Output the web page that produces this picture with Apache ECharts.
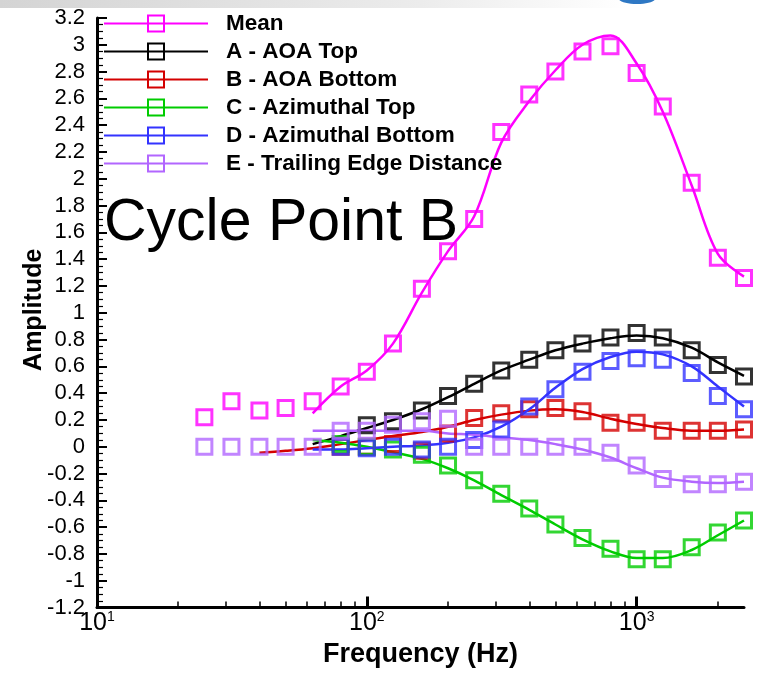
<!DOCTYPE html>
<html>
<head>
<meta charset="utf-8">
<script src="https://cdn.jsdelivr.net/npm/echarts@6/dist/echarts.min.js"></script>
<style>
  html, body { margin: 0; padding: 0; background: #fff; }
  #chart { width: 766px; height: 673px; }
</style>
</head>
<body>
<div id="chart"></div>
<script>
// One-third-octave band centre frequencies (Hz)
const freq = [25, 31.5, 40, 50, 63, 80, 100, 125, 160, 200, 250, 315, 400, 500, 630, 800, 1000, 1250, 1600, 2000, 2500];

// Measured amplitudes (square markers)
const meanPts = [0.22, 0.34, 0.27, 0.29, 0.34, 0.45, 0.56, 0.77, 1.18, 1.46, 1.70, 2.35, 2.63, 2.80, 2.95, 2.99, 2.79, 2.54, 1.97, 1.41, 1.26];
const aPts    = [null, null, null, null, null, null, 0.16, 0.19, 0.27, 0.38, 0.47, 0.57, 0.65, 0.72, 0.77, 0.815, 0.85, 0.815, 0.72, 0.61, 0.525];
const bPts    = [null, null, null, null, null, 0.0, 0.0, 0.02, -0.03, 0.10, 0.215, 0.25, 0.28, 0.29, 0.265, 0.18, 0.18, 0.12, 0.12, 0.12, 0.13];
const cPts    = [null, null, null, null, null, 0.02, 0.0, -0.02, -0.06, -0.14, -0.25, -0.35, -0.46, -0.58, -0.68, -0.76, -0.84, -0.84, -0.75, -0.64, -0.55];
const dPts    = [null, null, null, null, null, 0.0, -0.01, 0.0, -0.02, 0.0, 0.05, 0.13, 0.30, 0.43, 0.56, 0.64, 0.66, 0.65, 0.55, 0.38, 0.28];
const ePts    = [0.0, 0.0, 0.0, 0.0, 0.0, 0.12, 0.12, 0.165, 0.19, 0.21, 0.0, 0.0, 0.0, 0.0, 0.0, -0.045, -0.14, -0.24, -0.28, -0.28, -0.26];

// Fitted curves
const meanFit = [null, null, null, null, 0.25, 0.45, 0.57, 0.77, 1.15, 1.46, 1.72, 2.27, 2.58, 2.81, 3.0, 3.07, 2.86, 2.50, 1.95, 1.44, 1.27];
const aFit    = [null, null, null, null, 0.02, 0.08, 0.14, 0.20, 0.28, 0.37, 0.47, 0.57, 0.65, 0.72, 0.77, 0.81, 0.83, 0.81, 0.74, 0.63, 0.53];
const bFit    = [null, null, -0.045, -0.03, -0.01, 0.02, 0.05, 0.08, 0.11, 0.15, 0.20, 0.24, 0.27, 0.28, 0.26, 0.21, 0.17, 0.14, 0.12, 0.12, 0.13];
const cFit    = [null, null, null, null, 0.05, 0.03, 0.0, -0.04, -0.09, -0.16, -0.25, -0.36, -0.47, -0.58, -0.69, -0.78, -0.83, -0.83, -0.77, -0.66, -0.55];
const dFit    = [null, null, null, null, -0.02, -0.02, -0.01, 0.0, 0.01, 0.03, 0.07, 0.15, 0.28, 0.44, 0.58, 0.67, 0.71, 0.69, 0.60, 0.45, 0.30];
const eFit    = [null, null, null, null, 0.12, 0.12, 0.12, 0.12, 0.12, 0.10, 0.09, 0.07, 0.05, 0.02, -0.02, -0.08, -0.16, -0.23, -0.26, -0.27, -0.26];

const names  = ['Mean', 'A - AOA Top', 'B - AOA Bottom', 'C - Azimuthal Top', 'D - Azimuthal Bottom', 'E - Trailing Edge Distance'];
const colors = ['#ff00ff', '#000000', '#d40000', '#00cc00', '#3333ff', '#b266ff'];
const pts    = [meanPts, aPts, bPts, cPts, dPts, ePts];
const fits   = [meanFit, aFit, bFit, cFit, dFit, eFit];

// Axis ticks
const majorTicks = [10, 100, 1000];
const minorTicks = [20, 30, 40, 50, 60, 70, 80, 90, 200, 300, 400, 500, 600, 700, 800, 900, 2000];

const FONT = 'Liberation Sans, Arial, sans-serif';
const pairs = arr => freq.map((f, i) => [f, arr[i]]).filter(p => p[1] !== null);

const lineSeries = names.map((n, i) => ({
  name: n,
  type: 'line',
  smooth: 0.35,
  data: pairs(fits[i]),
  showSymbol: false,
  symbol: 'rect',
  lineStyle: { color: colors[i], width: 2.5 },
  itemStyle: { color: 'rgba(255,255,255,0)', borderColor: colors[i], borderWidth: 3 },
  emphasis: { disabled: true },
  z: 2
}));

const markerSeries = names.map((n, i) => ({
  name: n,
  type: 'scatter',
  data: pairs(pts[i]),
  symbol: 'rect',
  symbolSize: 15,
  itemStyle: { color: 'rgba(255,255,255,0)', borderColor: colors[i], borderWidth: 3 },
  emphasis: { disabled: true },
  z: 3
}));

const chart = echarts.init(document.getElementById('chart'), null, { renderer: 'canvas' });
chart.setOption({
  animation: false,
  backgroundColor: '#fff',
  textStyle: { fontFamily: FONT },
  grid: { left: 97, right: 22, top: 18, bottom: 62 },
  legend: {
    data: names,
    orient: 'vertical',
    left: 98,
    top: 7,
    itemWidth: 104,
    itemHeight: 20,
    itemGap: 5,
    selectedMode: false,
    textStyle: { fontFamily: FONT, fontWeight: 'bold', fontSize: 22.5, color: '#000', padding: [0, 0, 0, 13] }
  },
  xAxis: [
    {
      type: 'log', logBase: 10, min: 10, max: 2500,
      name: 'Frequency (Hz)', nameLocation: 'middle', nameGap: 31,
      nameTextStyle: { fontSize: 27, fontWeight: 'bold', color: '#000', fontFamily: FONT },
      axisLine: { show: true, onZero: false, lineStyle: { color: '#000', width: 3 } },
      axisTick: { show: true, inside: true, length: 11, customValues: majorTicks, lineStyle: { color: '#000', width: 3 } },
      axisLabel: {
        customValues: majorTicks, margin: 3,
        formatter: v => '{b|10}{s|' + Math.round(Math.log10(v)) + '}',
        rich: {
          b: { fontSize: 25, color: '#000', fontFamily: FONT },
          s: { fontSize: 14, color: '#000', verticalAlign: 'top', padding: [0, 0, 12, 0], fontFamily: FONT }
        }
      },
      splitLine: { show: false }
    },
    {
      type: 'log', logBase: 10, min: 10, max: 2500, position: 'bottom',
      axisLine: { show: false, onZero: false },
      axisTick: { show: true, inside: true, length: 6, customValues: minorTicks, lineStyle: { color: '#000', width: 1.5 } },
      axisLabel: { show: false },
      splitLine: { show: false }
    }
  ],
  yAxis: {
    type: 'value', min: -1.2, max: 3.2, interval: 0.2,
    name: 'Amplitude', nameLocation: 'middle', nameGap: 50, nameRotate: 90,
    nameMoveOverlap: false,
    nameTextStyle: { fontSize: 25, fontWeight: 'bold', color: '#000', fontFamily: FONT, padding: [0, 0, 0, 6] },
    axisLine: { show: true, onZero: false, lineStyle: { color: '#000', width: 3 } },
    axisTick: { show: true, inside: true, length: 10, lineStyle: { color: '#000', width: 2 } },
    minorTick: { show: true, splitNumber: 4, length: 6, lineStyle: { color: '#000', width: 1.2 } },
    axisLabel: {
      margin: 12, fontSize: 22, color: '#000', fontFamily: FONT,
      formatter: v => String(Math.round(v * 10) / 10)
    },
    splitLine: { show: false }
  },
  graphic: [
    {
      type: 'rect', left: 0, top: 0, silent: true, z: -1,
      shape: { width: 766, height: 8 },
      style: {
        fill: new echarts.graphic.LinearGradient(0, 0, 1, 0, [
          { offset: 0, color: '#d4d4d4' },
          { offset: 0.55, color: '#ececec' },
          { offset: 0.82, color: '#ffffff' },
          { offset: 1, color: '#ffffff' }
        ])
      }
    },
    {
      type: 'ellipse', silent: true, z: -1,
      shape: { cx: 637, cy: -1, rx: 18, ry: 5 },
      style: { fill: '#2f78c4' }
    },
    {
      type: 'text', left: 104, top: 194, silent: true, z: 10,
      style: { text: 'Cycle Point B', fontSize: 59, fontFamily: FONT, fill: '#000' }
    }
  ],
  series: lineSeries.concat(markerSeries)
});
</script>
</body>
</html>
